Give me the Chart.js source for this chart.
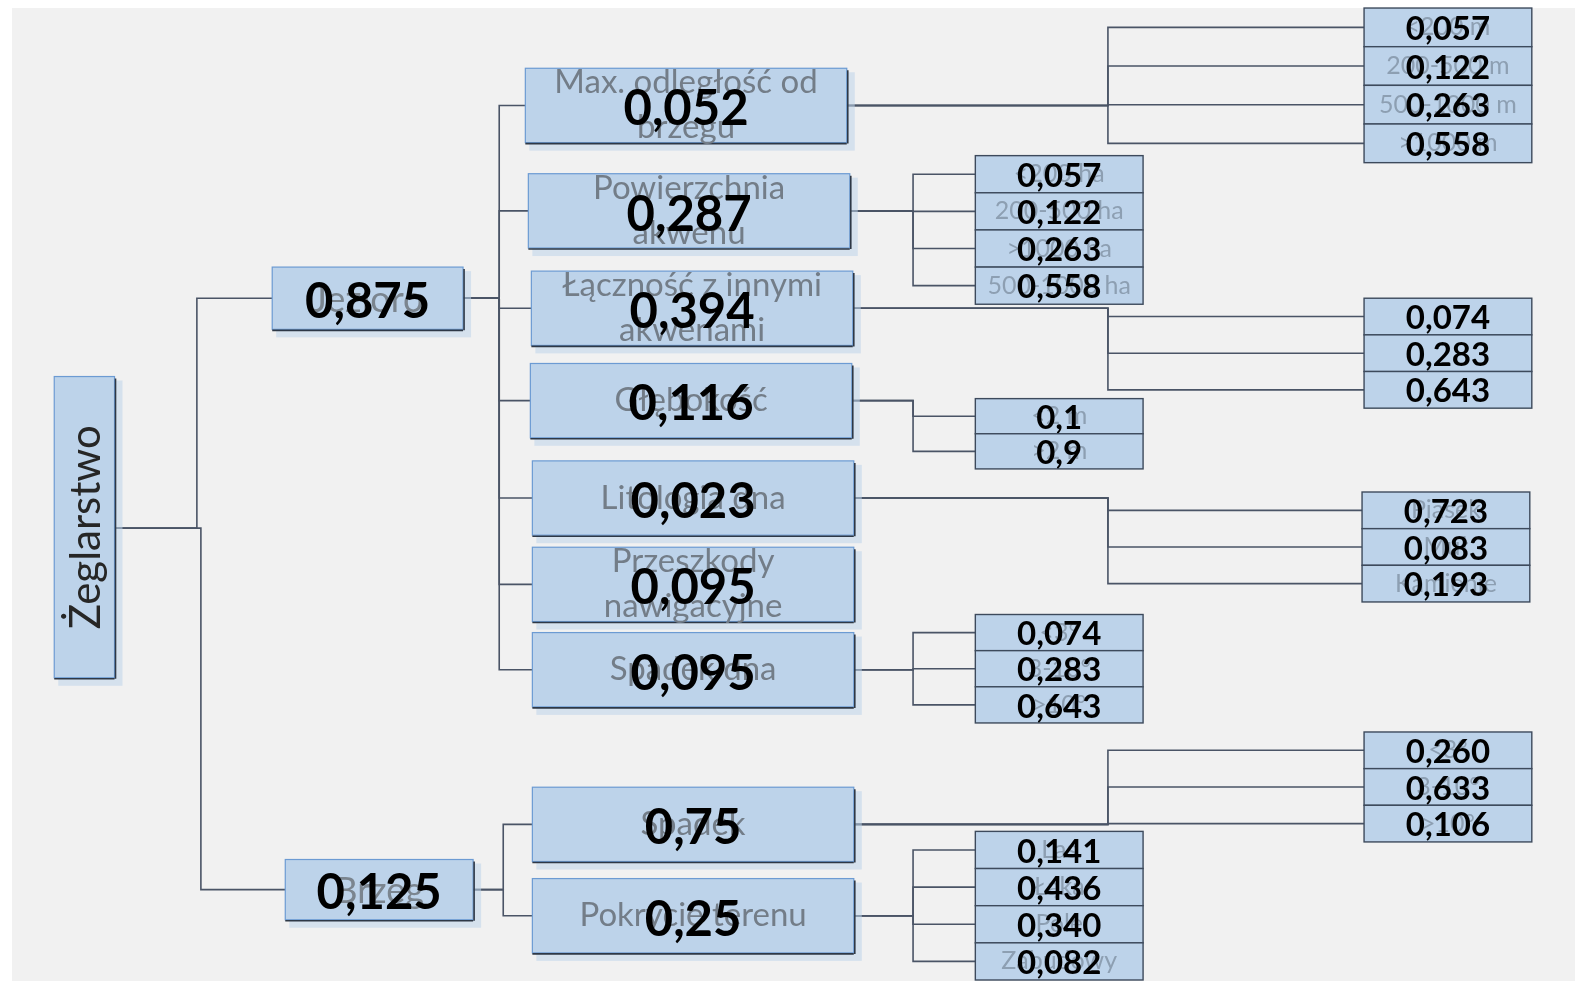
<!DOCTYPE html>
<html>
<head>
<meta charset="utf-8">
<script src="https://cdn.jsdelivr.net/npm/chart.js@4"></script>
<style>
  html, body { margin:0; background:#fff; overflow:hidden; }
  #wrap { width:1575px; height:981px; position:relative; }
</style>
</head>
<body>
<div id="wrap"><canvas id="myChart"></canvas></div>
<script>
// tree data
var rootLabel = 'Żeglarstwo';

var level1Labels = ['Jezioro', 'Brzeg'];
var level1Weights = [0.875, 0.125];

var level2Labels = [
  ['Max. odległość od', 'brzegu'],
  ['Powierzchnia', 'akwenu'],
  ['Łączność z innymi', 'akwenami'],
  ['Głębokość'],
  ['Litologia dna'],
  ['Przeszkody', 'nawigacyjne'],
  ['Spadek dna'],
  ['Spadek'],
  ['Pokrycie terenu']
];
var level2Weights = [0.052, 0.287, 0.394, 0.116, 0.023, 0.095, 0.095, 0.75, 0.25];
var level2Parent = [0, 0, 0, 0, 0, 0, 0, 1, 1];

var leafLabels = [
  ['<200 m', '200-500 m', '500-1000 m', '>1000 m'],
  ['<200 ha', '200-500 ha', '>1000 ha', '500-1000 ha'],
  ['', '', ''],
  ['<2 m', '>2 m'],
  ['Piasek', 'Muł', 'Kamienie'],
  [],
  ['<3°', '3-10°', '>10°'],
  ['<3°', '3-10°', '>10°'],
  ['Las', 'Łąka', 'Pole', 'Zabudowy']
];
var leafWeights = [
  [0.057, 0.122, 0.263, 0.558],
  [0.057, 0.122, 0.263, 0.558],
  [0.074, 0.283, 0.643],
  [0.1, 0.9],
  [0.723, 0.083, 0.193],
  [],
  [0.074, 0.283, 0.643],
  [0.260, 0.633, 0.106],
  [0.141, 0.436, 0.340, 0.082]
];

// layout (chart units)
var rootBox = [54, 375, 114, 675];
var level1Box = [[271, 266, 461, 328], [284, 856, 471, 916]];
var level2Left = [523, 526, 529, 528, 530, 530, 530, 530, 530];
var level2Mid = [105, 210, 307, 399, 496, 582, 667, 821, 912];
var leafLeft = [1358, 971, 1358, 971, 1356, 0, 971, 1358, 971];
var leafTop = [8, 155, 297, 397, 490, 0, 612, 729, 828];
var leafRow = [38.5, 37, 36.5, 35, 36.5, 0, 36, 36.5, 37];

var lineColor = '#4a5466';
var boxFill = '#bdd3ea';
var boxEdge = '#6c9bd3';

function decimals(group) {
  var d = 0;
  group.forEach(function (v) {
    var s = String(v).split('.')[1] || '';
    if (s.length > d) d = s.length;
  });
  return d;
}
function fmt(v, d) { return v.toFixed(d).replace('.', ','); }

// connector polylines
function elbow(x1, y1, mx, x2, y2) {
  return {
    data: [{x: x1, y: y1}, {x: mx, y: y1}, {x: mx, y: y2}, {x: x2, y: y2}],
    showLine: true, pointRadius: 0, borderColor: lineColor, borderWidth: 1.6, fill: false
  };
}
var datasets = [];
var rootMidY = 526;
level1Box.forEach(function (b, i) {
  datasets.push(elbow(rootBox[2], rootMidY, 196 + i * 4, b[0], (b[1] + b[3]) / 2));
});
level2Mid.forEach(function (y, i) {
  var p = level1Box[level2Parent[i]];
  var py = (p[1] + p[3]) / 2;
  datasets.push(elbow(p[2], py, level2Parent[i] ? 501 : 497, level2Left[i], y));
  leafWeights[i].forEach(function (w, j) {
    var cy = leafTop[i] + leafRow[i] * (j + 0.5);
    var mx = leafLeft[i] > 1200 ? 1103 : 909;
    datasets.push(elbow(level2Left[i] + 320, y, mx, leafLeft[i], cy));
  });
});

function drawBox(ctx, x1, y1, x2, y2) {
  ctx.fillStyle = 'rgba(189,211,234,0.55)';
  ctx.fillRect(x1 + 4, y1 + 4, x2 - x1 + 4, y2 - y1 + 4);
  ctx.fillStyle = boxFill;
  ctx.fillRect(x1, y1, x2 - x1, y2 - y1);
  ctx.strokeStyle = boxEdge;
  ctx.lineWidth = 1.2;
  ctx.strokeRect(x1, y1, x2 - x1, y2 - y1);
  ctx.strokeStyle = '#2e3846';
  ctx.lineWidth = 1.6;
  ctx.beginPath();
  ctx.moveTo(x1, y2 + 1); ctx.lineTo(x2, y2 + 1);
  ctx.moveTo(x2 + 1, y1 + 2); ctx.lineTo(x2 + 1, y2 + 1);
  ctx.stroke();
}

var treePlugin = {
  id: 'tree',
  beforeDraw: function (chart) {
    var ctx = chart.ctx;
    ctx.save();
    ctx.fillStyle = '#ffffff';
    ctx.fillRect(0, 0, chart.width, chart.height);
    ctx.fillStyle = '#f1f1f1';
    ctx.fillRect(12, 8, chart.width - 12, chart.height - 8);
    ctx.restore();
  },
  afterDatasetsDraw: function (chart) {
    var ctx = chart.ctx, xs = chart.scales.x, ys = chart.scales.y;
    function X(v) { return xs.getPixelForValue(v); }
    function Y(v) { return ys.getPixelForValue(v); }
    ctx.save();
    ctx.textAlign = 'center';
    ctx.textBaseline = 'middle';

    // root
    drawBox(ctx, X(rootBox[0]), Y(rootBox[1]), X(rootBox[2]), Y(rootBox[3]));
    ctx.save();
    ctx.translate(X((rootBox[0] + rootBox[2]) / 2), Y((rootBox[1] + rootBox[3]) / 2));
    ctx.rotate(-Math.PI / 2);
    ctx.fillStyle = '#262626';
    ctx.font = '42px Lato';
    ctx.fillText(rootLabel, 0, 2);
    ctx.restore();

    // level 1
    var d1 = decimals(level1Weights);
    level1Box.forEach(function (b, i) {
      drawBox(ctx, X(b[0]), Y(b[1]), X(b[2]), Y(b[3]));
      var cx = X((b[0] + b[2]) / 2), cy = Y((b[1] + b[3]) / 2);
      ctx.fillStyle = '#7b858f';
      ctx.font = '36px Lato';
      ctx.fillText(level1Labels[i], cx, cy + 2);
      ctx.fillStyle = '#000';
      ctx.font = 'bold 49px Lato';
      ctx.fillText(fmt(level1Weights[i], d1), cx, cy + 4);
    });

    // level 2
    level2Mid.forEach(function (y, i) {
      var grp = level2Weights.filter(function (w, k) { return level2Parent[k] === level2Parent[i]; });
      var d2 = decimals(grp);
      var x1 = X(level2Left[i]), x2 = X(level2Left[i] + 320);
      var y1 = Y(y - 37), y2 = Y(y + 37);
      drawBox(ctx, x1, y1, x2, y2);
      var cx = (x1 + x2) / 2, cy = Y(y);
      ctx.fillStyle = '#737d88';
      ctx.font = '33px Lato';
      var ls = level2Labels[i];
      if (ls.length === 2) {
        ctx.fillText(ls[0], cx, cy - 23);
        ctx.fillText(ls[1], cx, cy + 22);
      } else {
        ctx.fillText(ls[0], cx, cy);
      }
      ctx.fillStyle = '#000';
      ctx.font = 'bold 49px Lato';
      ctx.fillText(fmt(level2Weights[i], d2), cx, cy + 4);

      // leaves
      var dl = decimals(leafWeights[i]);
      leafWeights[i].forEach(function (w, j) {
        var lx1 = X(leafLeft[i]), lx2 = X(leafLeft[i] + 167);
        var ly1 = Y(leafTop[i] + leafRow[i] * j), ly2 = Y(leafTop[i] + leafRow[i] * (j + 1));
        ctx.fillStyle = boxFill;
        ctx.fillRect(lx1, ly1, lx2 - lx1, ly2 - ly1);
        ctx.strokeStyle = '#3d4a5c';
        ctx.lineWidth = 1.4;
        ctx.strokeRect(lx1, ly1, lx2 - lx1, ly2 - ly1);
        var lcx = (lx1 + lx2) / 2, lcy = (ly1 + ly2) / 2;
        ctx.fillStyle = '#8d9fb2';
        ctx.font = '25px Lato';
        ctx.fillText(leafLabels[i][j] || '', lcx, lcy);
        ctx.fillStyle = '#000';
        ctx.font = 'bold 33px Lato';
        ctx.fillText(fmt(w, dl), lcx, lcy + 2);
      });
    });
    ctx.restore();
  }
};

new Chart(document.getElementById('myChart'), {
  type: 'scatter',
  data: { datasets: datasets },
  options: {
    responsive: true,
    maintainAspectRatio: false,
    animation: false,
    layout: { padding: 0, autoPadding: false },
    scales: {
      x: { type: 'linear', min: 0, max: 1568, display: false },
      y: { type: 'linear', min: 0, max: 977, reverse: true, display: false }
    },
    plugins: {
      legend: { display: false },
      tooltip: { enabled: false }
    }
  },
  plugins: [treePlugin]
});
</script>
</body>
</html>
